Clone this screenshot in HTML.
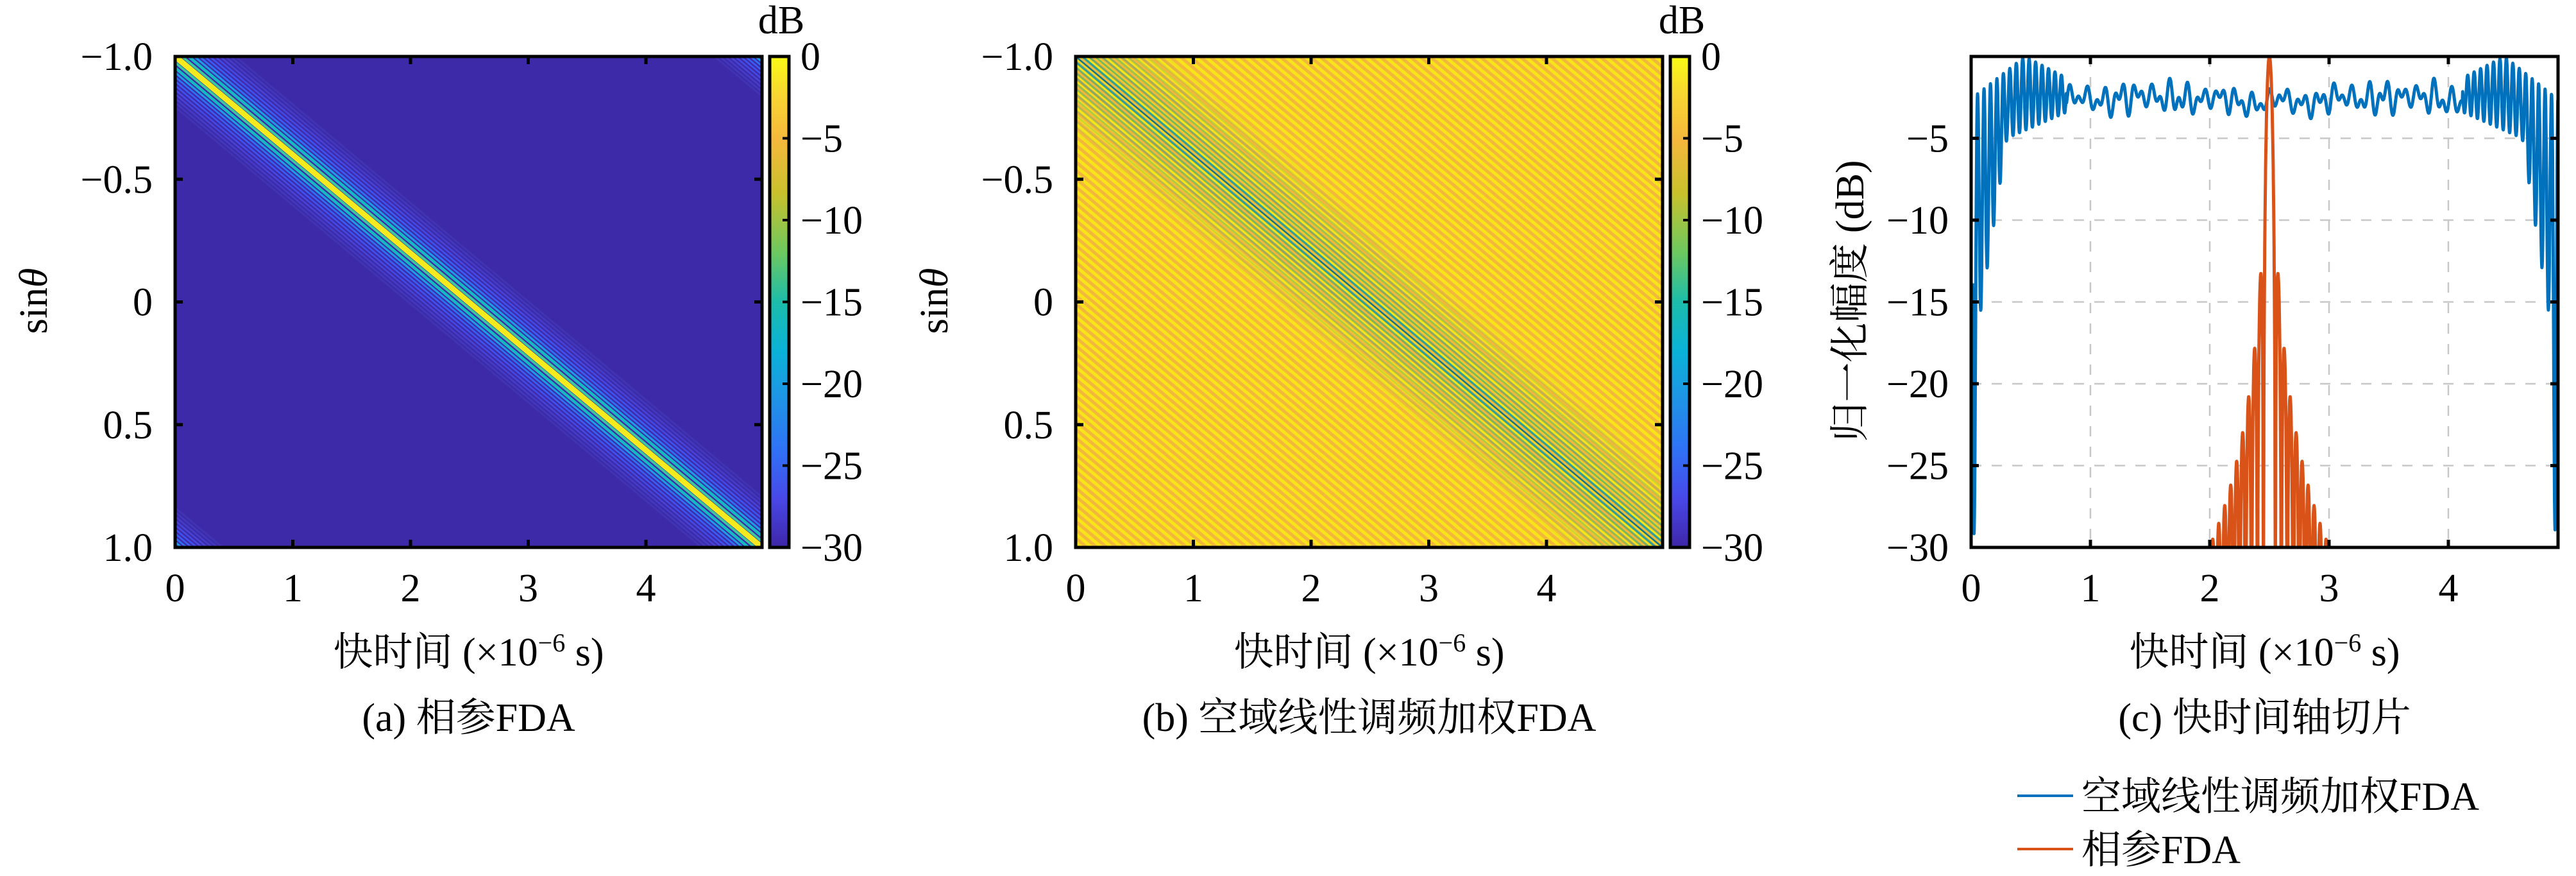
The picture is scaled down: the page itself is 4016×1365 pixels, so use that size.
<!DOCTYPE html>
<html><head><meta charset="utf-8"><style>
html,body{margin:0;padding:0;background:#fff;}
svg{display:block;}
text{font-family:"Liberation Serif","Noto Serif CJK SC","Noto Sans CJK SC",serif;fill:#000;}
</style></head><body>
<svg id="s" width="4016" height="1365" viewBox="0 0 4016 1365" xmlns="http://www.w3.org/2000/svg">
<defs>
<clipPath id="ca"><rect x="273" y="88" width="915" height="765"/></clipPath>
<clipPath id="cb"><rect x="1677" y="88" width="915" height="765"/></clipPath>
<clipPath id="cc"><rect x="3073" y="88" width="915" height="765"/></clipPath>
<linearGradient id="par" x1="0" y1="0" x2="0" y2="1">
<stop offset="0" stop-color="#f9fb15"/>
<stop offset="0.08" stop-color="#f8d532"/>
<stop offset="0.17" stop-color="#f5b83c"/>
<stop offset="0.28" stop-color="#c8c12c"/>
<stop offset="0.4" stop-color="#6cc860"/>
<stop offset="0.5" stop-color="#1cbcaa"/>
<stop offset="0.6" stop-color="#0ab2d8"/>
<stop offset="0.7" stop-color="#1f93e6"/>
<stop offset="0.8" stop-color="#2f72f6"/>
<stop offset="0.9" stop-color="#4848e8"/>
<stop offset="1" stop-color="#3e26a8"/>
</linearGradient>
<pattern id="pb" patternUnits="userSpaceOnUse" width="10" height="10" patternTransform="rotate(39.9)">
<rect x="0" y="0" width="10" height="10" fill="#f9e41a"/>
<rect x="0" y="5" width="10" height="5" fill="#f2b83c"/>
</pattern>
</defs>
<g id="pa" clip-path="url(#ca)"><rect x="273" y="88" width="915" height="765" fill="#3c2aa8"/></g>
<g id="pbg" clip-path="url(#cb)"><rect x="1677" y="88" width="915" height="765" fill="url(#pb)"/></g>
<g id="pcg" clip-path="url(#cc)"></g>
<g id="axes" fill="none" stroke="#000"></g>
<g id="txt"></g>
</svg>
<script>
var NS="http://www.w3.org/2000/svg";
function el(p,t,a,txt){var e=document.createElementNS(NS,t);for(var k in a)e.setAttribute(k,a[k]);if(txt!==undefined)e.textContent=txt;p.appendChild(e);return e;}
var W=915,H=765,Y0=88;
function band(g,X0,d,w,col,op){
  var x1=X0+d-w/2,x2=X0+d+w/2;
  el(g,'polygon',{points:x1+','+Y0+' '+x2+','+Y0+' '+(x2+W)+','+(Y0+H)+' '+(x1+W)+','+(Y0+H),fill:col,'fill-opacity':op||1});
}
var ga=document.getElementById('pa');
function lobes(c){
  var cols=['#2f6ff2','#3a5cf0','#4050ec','#4448e0','#4642d4','#443cc8','#4238bc','#4034b2'];
  for(var k=0;k<cols.length;k++){var d=38+k*8;band(ga,273,c+d,4.5,cols[k]);band(ga,273,c-d,4.5,cols[k]);}
  band(ga,273,c+30,5,'#1f9ae4');band(ga,273,c-30,5,'#1f9ae4');
  band(ga,273,c+21,7,'#16b8c2');band(ga,273,c-21,7,'#16b8c2');
  band(ga,273,c+11,6,'#3ac8a0');band(ga,273,c-11,6,'#3ac8a0');
  band(ga,273,c,14,'#f5ea1e');
}
lobes(0);lobes(W+20);lobes(-W-20);
var gb=document.getElementById('pbg');
for(var k=14;k>=1;k--){
  var op=0.85*(1-k/15);
  band(gb,1677,k*10,5,'#4aa07a',op);band(gb,1677,-k*10,5,'#4aa07a',op);
}
band(gb,1677,10,5,'#2aa09a',0.9);band(gb,1677,-10,5,'#2aa09a',0.9);
band(gb,1677,0,5,'#3aa090',0.9);band(gb,1677,0,2.5,'#1f5f80',1);
var gc=document.getElementById('pcg');
var XU=186,X0c=3073;
function px(t){return X0c+t*XU;}function py(v){return Y0+(-v)/30*H;}
for(var i=1;i<=4;i++)el(gc,'line',{x1:px(i),y1:Y0,x2:px(i),y2:Y0+H,stroke:'#c8c8c8','stroke-width':2.5,'stroke-dasharray':'16,16'});
for(var i=1;i<=5;i++)el(gc,'line',{x1:X0c,y1:py(-5*i),x2:X0c+W,y2:py(-5*i),stroke:'#c8c8c8','stroke-width':2.5,'stroke-dasharray':'16,16'});
var tmax=W/XU;
function blue(t){
  var u=Math.min(t,tmax-t);
  var top,bot;
  if(u<0.45){top=-2.6+2.6*(u/0.45);}else if(u<0.8){top=-(u-0.45)/0.35*1.3;}else{top=-1.4-0.5*Math.abs(Math.sin(t*7.3))-0.3*Math.sin(t*3.1);}
  if(u<0.025){bot=-30;}else if(u<0.3){bot=-17+(u-0.05)/0.25*12;if(bot<-17)bot=-17-(0.05-u)*500;}else if(u<0.8){bot=-5+(u-0.3)/0.5*1.6;}else{bot=-3.1-0.7*Math.abs(Math.sin(t*5.7+1));}
  var c;
  if(u<0.8){c=0.5+0.5*Math.cos(2*Math.PI*18.5*t);}
  else{c=0.5+0.25*Math.cos(2*Math.PI*7.2*t)+0.25*Math.cos(2*Math.PI*13.1*t+1.3);}
  return bot+(top-bot)*c;
}
var d='';
for(var t=0.012;t<=tmax;t+=0.002){var v=Math.max(-30,Math.min(0,blue(t)));d+=(d?'L':'M')+px(t).toFixed(1)+','+py(v).toFixed(1);}
el(gc,'path',{d:d,fill:'none',stroke:'#0072bd','stroke-width':5,'stroke-linejoin':'round'});
d='';
for(var t=2.0;t<=3.0;t+=0.001){var x=Math.PI*(t-2.5)/0.05;var a=Math.abs(x)<1e-6?1:Math.abs(Math.sin(x)/x);var v=20*Math.log10(Math.max(a,1e-6));v=Math.max(-30,v);d+=(d?'L':'M')+px(t).toFixed(1)+','+py(v).toFixed(1);}
el(gc,'path',{d:d,fill:'none',stroke:'#d95319','stroke-width':5,'stroke-linejoin':'round'});
var ax=document.getElementById('axes'),tx=document.getElementById('txt');
var FS=62;
function frame(X,ticksX,ticksY){
  el(ax,'rect',{x:X,y:Y0,width:W,height:H,'stroke-width':5});
  ticksX.forEach(function(x){el(ax,'line',{x1:x,y1:Y0+H,x2:x,y2:Y0+H-12,'stroke-width':5});el(ax,'line',{x1:x,y1:Y0,x2:x,y2:Y0+12,'stroke-width':5});});
  ticksY.forEach(function(y){el(ax,'line',{x1:X,y1:y,x2:X+12,y2:y,'stroke-width':5});el(ax,'line',{x1:X+W,y1:y,x2:X+W-12,y2:y,'stroke-width':5});});
}
function T(x,y,s,anchor,size){return el(tx,'text',{x:x,y:y,'font-size':size||FS,'text-anchor':anchor||'middle'},s);}
[[273,'(a) 相参FDA'],[1677,'(b) 空域线性调频加权FDA']].forEach(function(p){
  var X=p[0],u=183.5;
  var tx_=[0,1,2,3,4].map(function(i){return X+i*u;});
  var ty=[0,1,2,3,4].map(function(i){return Y0+i*H/4;});
  frame(X,tx_,ty);
  ['0','1','2','3','4'].forEach(function(s,i){T(tx_[i],937,s);});
  ['−1.0','−0.5','0','0.5','1.0'].forEach(function(s,i){T(X-35,ty[i]+21,s,'end');});
  var t=T(X+W/2,1037,'快时间 (×10',null,62);
  el(t,'tspan',{dy:-22,'font-size':40},'−6');el(t,'tspan',{dy:22},' s)');
  T(X+W/2,1139,p[1]);
  var g=el(tx,'text',{x:0,y:0,'font-size':62,'text-anchor':'middle',transform:'translate('+(X-200)+',469) rotate(-90)'},'sin');
  el(g,'tspan',{'font-style':'italic'},'θ');
  var cx=X+W+12;
  el(ax,'rect',{x:cx,y:Y0,width:30,height:H,fill:'url(#par)',stroke:'#000','stroke-width':5});
  for(var i=0;i<=6;i++){var y=Y0+i*H/6;el(ax,'line',{x1:cx+30,y1:y,x2:cx+20,y2:y,'stroke-width':4});T(cx+48,y+21,i==0?'0':'−'+(5*i),'start');}
  T(cx+18,52,'dB');
});
var tcx=[0,1,2,3,4].map(function(i){return px(i);});
var tcy=[1,2,3,4,5,6].map(function(i){return py(-5*i);});
frame(X0c,tcx,tcy);
['0','1','2','3','4'].forEach(function(s,i){T(tcx[i],937,s);});
tcy.forEach(function(y,i){T(X0c-35,y+21,'−'+(5*(i+1)),'end');});
var t=T(X0c+W/2,1037,'快时间 (×10');el(t,'tspan',{dy:-22,'font-size':40},'−6');el(t,'tspan',{dy:22},' s)');
T(X0c+W/2,1139,'(c) 快时间轴切片');
el(tx,'text',{x:0,y:0,'font-size':62,'text-anchor':'middle',transform:'translate(2905,469) rotate(-90)'},'归一化幅度 (dB)');
el(ax,'line',{x1:3145,y1:1240,x2:3232,y2:1240,stroke:'#0072bd','stroke-width':4});
el(ax,'line',{x1:3145,y1:1323,x2:3232,y2:1323,stroke:'#d95319','stroke-width':4});
T(3245,1262,'空域线性调频加权FDA','start');
T(3245,1345,'相参FDA','start');
</script>
</body></html>
